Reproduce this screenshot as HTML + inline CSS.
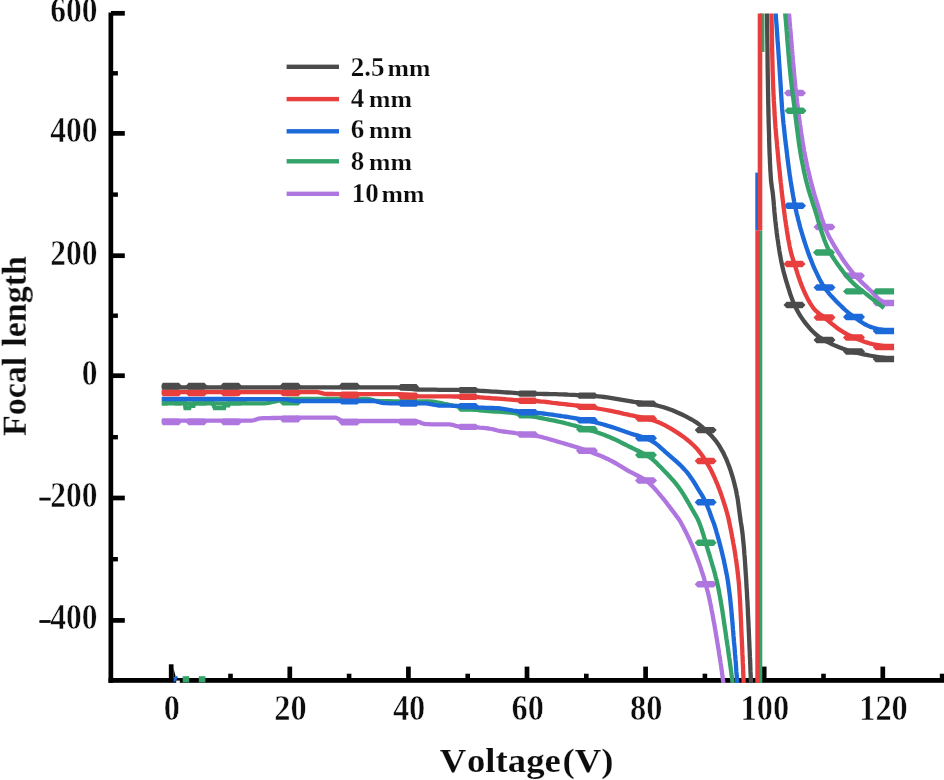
<!DOCTYPE html>
<html><head><meta charset="utf-8"><title>Focal length vs Voltage</title>
<style>
html,body{margin:0;padding:0;background:#fff;}
body{width:944px;height:780px;overflow:hidden;font-family:"Liberation Serif",serif;}
svg{display:block;}
text{font-family:"Liberation Serif",serif;font-weight:bold;fill:#0d0d0d;font-kerning:none;filter:blur(0.35px);stroke:#fff;stroke-width:0.25px;}
.tick{font-size:30px;stroke-width:0.45px;}
.leg{font-size:25px;}
.lab{font-size:34px;stroke-width:0.15px;}
.ylab{font-size:32px;}
</style></head>
<body>
<svg width="944" height="780" viewBox="0 0 944 780">
<defs><clipPath id="plot"><rect x="161.7" y="13.6" width="732.4" height="669.4"/></clipPath></defs>
<rect width="944" height="780" fill="#ffffff"/>
<g id="axes">
<rect x="108.5" y="12.5" width="4.7" height="670.3" fill="#000"/>
<rect x="108.5" y="678" width="835.5" height="4.8" fill="#000"/>
<rect x="111" y="10.95" width="13.8" height="4.7" fill="#000"/>
<rect x="111" y="131.05" width="13.8" height="4.7" fill="#000"/>
<rect x="111" y="253.35" width="13.8" height="4.7" fill="#000"/>
<rect x="111" y="373.35" width="13.8" height="4.7" fill="#000"/>
<rect x="111" y="495.65" width="13.8" height="4.7" fill="#000"/>
<rect x="111" y="618.05" width="13.8" height="4.7" fill="#000"/>
<rect x="111" y="71.10" width="6.9" height="4.4" fill="#000"/>
<rect x="111" y="192.40" width="6.9" height="4.4" fill="#000"/>
<rect x="111" y="313.50" width="6.9" height="4.4" fill="#000"/>
<rect x="111" y="435.00" width="6.9" height="4.4" fill="#000"/>
<rect x="111" y="557.00" width="6.9" height="4.4" fill="#000"/>
<rect x="168.85" y="664.3" width="4.7" height="15" fill="#000"/>
<rect x="287.45" y="666.6" width="4.7" height="15" fill="#000"/>
<rect x="406.05" y="666.6" width="4.7" height="15" fill="#000"/>
<rect x="524.65" y="666.6" width="4.7" height="15" fill="#000"/>
<rect x="643.25" y="666.6" width="4.7" height="15" fill="#000"/>
<rect x="761.85" y="666.6" width="4.7" height="15" fill="#000"/>
<rect x="880.45" y="666.6" width="4.7" height="15" fill="#000"/>
<rect x="228.20" y="673.7" width="4.6" height="6" fill="#000"/>
<rect x="346.80" y="673.7" width="4.6" height="6" fill="#000"/>
<rect x="465.40" y="673.7" width="4.6" height="6" fill="#000"/>
<rect x="584.00" y="673.7" width="4.6" height="6" fill="#000"/>
<rect x="702.60" y="673.7" width="4.6" height="6" fill="#000"/>
<rect x="821.20" y="673.7" width="4.6" height="6" fill="#000"/>
<rect x="939.80" y="673.7" width="4.6" height="6" fill="#000"/>
</g>
<g id="curves" clip-path="url(#plot)">
<path d="M158.0 420.6 L161.0 420.6 L164.0 420.6 L167.1 420.6 L170.1 420.6 L173.1 420.6 L176.2 420.6 L179.2 420.6 L182.3 420.6 L185.3 420.6 L188.4 420.6 L191.4 420.6 L194.5 420.6 L197.5 420.6 L200.5 420.6 L203.6 420.6 L206.6 420.6 L209.7 420.6 L212.7 420.6 L215.7 420.6 L218.8 420.6 L221.8 420.6 L224.8 420.6 L227.8 420.6 L230.8 420.6 L233.9 420.6 L236.8 420.6 L239.8 420.6 L242.8 420.6 L245.8 420.6 L248.7 420.6 L251.7 420.6 L254.6 420.0 L257.5 418.9 L260.4 418.3 L263.4 418.2 L266.4 418.2 L269.4 418.1 L272.4 418.0 L275.4 418.0 L278.5 417.9 L281.5 417.9 L284.6 417.9 L287.7 417.8 L290.8 417.8 L293.9 417.8 L296.9 417.7 L300.0 417.7 L303.1 417.7 L306.2 417.7 L309.2 417.7 L312.3 417.6 L315.3 417.6 L318.3 417.6 L321.3 417.6 L324.3 417.6 L327.2 417.6 L330.2 417.6 L333.1 417.6 L335.9 417.7 L338.7 419.1 L341.4 420.7 L344.3 421.0 L347.2 421.0 L350.1 421.0 L353.1 421.0 L356.0 421.0 L359.0 421.0 L362.1 421.0 L365.1 421.0 L368.1 421.0 L371.2 421.0 L374.3 421.0 L377.3 421.0 L380.4 421.0 L383.5 421.0 L386.6 421.0 L389.7 421.0 L392.7 421.0 L395.8 421.0 L398.9 421.0 L401.9 421.0 L404.9 421.0 L407.9 421.0 L410.9 421.0 L413.9 421.0 L416.8 421.2 L419.7 422.2 L422.6 423.5 L425.5 424.2 L428.5 424.2 L431.5 424.3 L434.5 424.3 L437.6 424.3 L440.6 424.3 L443.7 424.3 L446.7 424.3 L449.7 424.4 L452.6 424.9 L455.6 425.8 L458.5 426.3 L461.5 426.6 L464.5 426.7 L467.6 426.8 L470.6 427.0 L473.6 427.1 L476.6 427.3 L479.7 427.6 L482.7 427.8 L485.7 428.1 L488.7 428.5 L491.6 429.0 L494.6 429.7 L497.5 430.5 L500.5 431.1 L503.5 431.5 L506.5 431.9 L509.5 432.3 L512.5 432.7 L515.5 433.1 L518.5 433.4 L521.5 433.8 L524.5 434.1 L527.5 434.5 L530.5 434.9 L533.5 435.3 L536.4 435.8 L539.4 436.5 L542.3 437.2 L545.2 438.0 L548.1 438.8 L551.0 439.7 L554.0 440.5 L556.9 441.4 L559.8 442.2 L562.7 443.0 L565.6 443.9 L568.5 444.7 L571.4 445.6 L574.3 446.5 L577.2 447.4 L580.0 448.3 L582.9 449.3 L585.7 450.3 L588.6 451.3 L591.4 452.3 L594.3 453.4 L597.1 454.5 L599.9 455.6 L602.7 456.8 L605.4 458.0 L608.2 459.3 L610.9 460.6 L613.5 462.0 L616.2 463.5 L618.8 465.1 L621.4 466.6 L623.9 468.2 L626.6 469.8 L629.2 471.3 L631.9 472.7 L634.6 474.1 L637.3 475.5 L640.1 476.9 L642.7 478.3 L645.2 479.9 L647.6 481.6 L649.8 483.6 L652.0 485.7 L654.0 487.9 L656.1 490.2 L658.0 492.5 L660.0 494.9 L661.9 497.2 L663.9 499.5 L665.8 501.9 L667.6 504.3 L669.5 506.7 L671.3 509.1 L673.1 511.5 L674.9 513.9 L676.7 516.4 L678.6 518.8 L680.2 521.3 L681.6 523.9 L683.0 526.5 L684.4 529.2 L685.8 531.9 L687.1 534.6 L688.4 537.3 L689.7 540.0 L690.9 542.8 L692.2 545.6 L693.3 548.4 L694.5 551.2 L695.6 554.1 L696.7 556.9 L697.8 559.8 L698.9 562.7 L699.9 565.6 L700.9 568.5 L701.8 571.4 L702.8 574.3 L703.7 577.2 L704.5 580.1 L705.4 583.0 L706.2 585.9 L706.9 588.7 L707.7 591.6 L708.4 594.6 L709.1 597.5 L709.7 600.4 L710.3 603.4 L711.0 606.3 L711.5 609.3 L712.1 612.3 L712.7 615.3 L713.2 618.3 L713.7 621.2 L714.3 624.2 L714.8 627.2 L715.3 630.2 L715.8 633.2 L716.3 636.2 L716.8 639.2 L717.3 642.1 L717.8 645.1 L718.3 648.1 L718.8 651.1 L719.2 654.1 L719.7 657.1 L720.2 660.0 L720.6 663.0 L721.1 666.0 L721.5 669.0 L721.9 672.0 L722.3 675.0 L722.7 678.0 L723.1 681.0 L723.5 684.0" stroke="#b076e0" stroke-width="4.3" fill="none" stroke-linejoin="round"/>
<path d="M788.3 6.0 L788.6 9.0 L788.8 12.0 L789.1 15.1 L789.4 18.1 L789.6 21.1 L789.9 24.1 L790.1 27.2 L790.4 30.2 L790.7 33.2 L790.9 36.3 L791.2 39.3 L791.4 42.3 L791.7 45.3 L791.9 48.4 L792.2 51.4 L792.4 54.4 L792.7 57.4 L792.9 60.5 L793.2 63.5 L793.5 66.5 L793.8 69.5 L794.0 72.6 L794.3 75.6 L794.6 78.6 L794.9 81.6 L795.2 84.6 L795.5 87.7 L795.9 90.7 L796.2 93.7 L796.5 96.7 L796.9 99.7 L797.2 102.7 L797.6 105.8 L798.0 108.8 L798.3 111.8 L798.7 114.8 L799.1 117.8 L799.5 120.8 L799.9 123.8 L800.4 126.8 L800.8 129.9 L801.2 132.9 L801.7 135.9 L802.2 138.9 L802.6 141.9 L803.1 144.9 L803.6 147.8 L804.1 150.8 L804.7 153.8 L805.3 156.8 L805.9 159.8 L806.5 162.7 L807.1 165.7 L807.8 168.7 L808.5 171.6 L809.2 174.6 L809.9 177.5 L810.6 180.5 L811.4 183.4 L812.2 186.4 L813.0 189.3 L813.8 192.2 L814.6 195.1 L815.5 198.0 L816.4 200.9 L817.3 203.9 L818.2 206.8 L819.1 209.7 L820.0 212.5 L820.9 215.4 L821.8 218.4 L822.8 221.3 L823.8 224.1 L824.8 227.0 L825.9 229.8 L827.1 232.5 L828.4 235.3 L829.8 238.0 L831.3 240.6 L832.8 243.3 L834.3 245.9 L835.9 248.5 L837.5 251.1 L839.2 253.7 L840.8 256.2 L842.4 258.8 L844.1 261.3 L845.9 263.8 L847.7 266.3 L849.5 268.7 L851.4 271.1 L853.3 273.4 L855.3 275.7 L857.4 277.9 L859.5 280.1 L861.6 282.2 L863.9 284.3 L866.1 286.4 L868.3 288.5 L870.6 290.5 L872.8 292.8 L875.0 295.2 L877.2 297.5 L879.5 299.6 L882.0 301.3 L884.5 302.4 L887.3 302.9 L890.3 303.3 L893.5 303.5" stroke="#b076e0" stroke-width="4.3" fill="none" stroke-linejoin="round"/>
<polygon fill="#b076e0" points="160.0,421.8 163.0,418.4 179.0,418.4 182.0,421.8 179.0,425.2 163.0,425.2"/>
<polygon fill="#b076e0" points="185.5,421.8 188.5,418.4 204.5,418.4 207.5,421.8 204.5,425.2 188.5,425.2"/>
<polygon fill="#b076e0" points="220.0,421.8 223.0,418.4 239.0,418.4 242.0,421.8 239.0,425.2 223.0,425.2"/>
<polygon fill="#b076e0" points="279.5,419.0 282.5,415.5 298.5,415.5 301.5,419.0 298.5,422.4 282.5,422.4"/>
<polygon fill="#b076e0" points="338.5,422.2 341.5,418.8 357.5,418.8 360.5,422.2 357.5,425.6 341.5,425.6"/>
<polygon fill="#b076e0" points="397.5,422.2 400.5,418.8 416.5,418.8 419.5,422.2 416.5,425.6 400.5,425.6"/>
<polygon fill="#b076e0" points="457.0,426.9 460.0,423.7 476.0,423.7 479.0,426.9 476.0,430.1 460.0,430.1"/>
<polygon fill="#b076e0" points="516.5,434.5 519.5,431.3 535.5,431.3 538.5,434.5 535.5,437.7 519.5,437.7"/>
<polygon fill="#b076e0" points="576.0,450.7 579.0,447.5 595.0,447.5 598.0,450.7 595.0,453.9 579.0,453.9"/>
<polygon fill="#b076e0" points="635.0,480.5 638.0,477.3 654.0,477.3 657.0,480.5 654.0,483.7 638.0,483.7"/>
<polygon fill="#b076e0" points="694.7,584.2 697.7,581.0 713.7,581.0 716.7,584.2 713.7,587.4 697.7,587.4"/>
<polygon fill="#b076e0" points="784.0,93.0 787.0,89.8 803.0,89.8 806.0,93.0 803.0,96.2 787.0,96.2"/>
<polygon fill="#b076e0" points="813.5,227.0 816.5,223.8 832.5,223.8 835.5,227.0 832.5,230.2 816.5,230.2"/>
<polygon fill="#b076e0" points="843.0,275.7 846.0,272.5 862.0,272.5 865.0,275.7 862.0,278.9 846.0,278.9"/>
<polygon fill="#b076e0" points="872.7,303.0 875.7,299.8 895.7,299.8 898.7,303.0 895.7,306.2 875.7,306.2"/>
<path d="M158.0 403.4 L161.0 403.4 L164.0 403.4 L167.1 403.4 L170.1 403.4 L173.1 403.4 L176.1 403.4 L179.1 403.4 L182.2 403.4 L185.2 403.4 L188.2 403.4 L191.2 403.4 L194.3 403.4 L197.3 403.4 L200.3 403.4 L203.4 403.4 L206.4 403.4 L209.4 403.4 L212.4 403.4 L215.5 403.4 L218.5 403.4 L221.5 403.4 L224.5 403.4 L227.6 403.4 L230.6 403.4 L233.6 403.4 L236.6 403.4 L239.6 403.4 L242.6 403.4 L245.7 403.4 L248.7 403.4 L251.7 403.4 L254.7 403.4 L257.7 403.4 L260.7 403.4 L263.7 403.4 L266.7 403.1 L269.7 402.6 L272.6 402.0 L275.6 401.3 L278.6 400.6 L281.6 399.9 L284.5 399.4 L287.5 399.0 L290.5 398.8 L293.5 398.8 L296.5 398.8 L299.5 398.8 L302.5 398.8 L305.6 398.8 L308.6 398.8 L311.6 398.8 L314.6 398.8 L317.7 398.8 L320.7 398.8 L323.7 398.8 L326.8 398.8 L329.8 398.8 L332.8 398.8 L335.8 398.8 L338.9 398.8 L341.9 398.8 L344.9 398.8 L347.9 398.8 L351.0 398.8 L354.0 398.8 L357.0 398.8 L360.0 398.8 L363.0 398.8 L366.0 398.8 L369.0 399.2 L372.0 399.8 L375.0 400.5 L377.9 401.0 L380.9 401.1 L383.9 401.2 L387.0 401.2 L390.0 401.2 L393.0 401.3 L396.0 401.3 L399.0 401.3 L402.1 401.3 L405.1 401.3 L408.1 401.3 L411.2 401.3 L414.2 401.3 L417.2 401.4 L420.2 401.4 L423.3 401.4 L426.3 401.4 L429.3 401.5 L432.3 401.6 L435.2 402.0 L438.2 402.5 L441.2 403.1 L444.2 403.8 L447.1 404.4 L450.1 405.0 L453.1 405.6 L456.0 406.1 L459.0 406.7 L462.0 407.3 L464.9 407.9 L467.9 408.5 L470.9 409.0 L473.9 409.5 L476.8 409.9 L479.8 410.3 L482.8 410.6 L485.8 410.8 L488.8 411.1 L491.9 411.3 L494.9 411.5 L497.9 411.6 L500.9 411.8 L503.9 412.1 L506.9 412.3 L509.9 412.6 L512.9 412.9 L515.9 413.3 L518.9 413.8 L521.9 414.3 L524.9 414.8 L527.8 415.3 L530.8 416.0 L533.8 416.6 L536.7 417.2 L539.7 417.8 L542.6 418.4 L545.6 419.0 L548.6 419.6 L551.5 420.1 L554.5 420.7 L557.4 421.4 L560.4 422.0 L563.3 422.7 L566.3 423.5 L569.2 424.2 L572.1 425.0 L575.0 425.7 L577.9 426.5 L580.9 427.4 L583.8 428.2 L586.6 429.1 L589.5 430.0 L592.4 430.9 L595.3 431.8 L598.2 432.8 L601.0 433.8 L603.9 434.8 L606.7 435.9 L609.5 437.0 L612.2 438.2 L615.0 439.4 L617.7 440.7 L620.4 442.1 L623.1 443.5 L625.8 444.8 L628.5 446.2 L631.2 447.5 L634.0 448.9 L636.7 450.2 L639.5 451.5 L642.2 452.9 L644.8 454.3 L647.4 455.8 L649.9 457.4 L652.3 459.2 L654.5 461.1 L656.8 463.2 L658.9 465.4 L661.1 467.6 L663.2 469.8 L665.3 471.9 L667.4 474.1 L669.4 476.3 L671.5 478.6 L673.5 480.8 L675.5 483.1 L677.3 485.5 L679.1 487.9 L680.8 490.3 L682.5 492.9 L684.1 495.4 L685.6 498.0 L687.2 500.6 L688.7 503.3 L690.2 505.9 L691.7 508.5 L693.2 511.1 L694.8 513.8 L696.3 516.4 L697.7 519.1 L698.9 521.8 L700.0 524.6 L701.0 527.4 L702.0 530.3 L702.9 533.2 L703.8 536.1 L704.6 539.0 L705.5 541.9 L706.3 544.8 L707.2 547.7 L708.1 550.6 L709.0 553.5 L709.9 556.4 L710.7 559.3 L711.6 562.2 L712.4 565.1 L713.3 568.0 L714.1 570.9 L714.9 573.8 L715.6 576.7 L716.4 579.6 L717.1 582.6 L717.8 585.5 L718.4 588.5 L719.0 591.4 L719.5 594.4 L720.1 597.3 L720.6 600.3 L721.1 603.3 L721.6 606.2 L722.1 609.2 L722.6 612.2 L723.0 615.2 L723.5 618.2 L723.9 621.2 L724.3 624.2 L724.8 627.2 L725.2 630.2 L725.7 633.2 L726.1 636.1 L726.5 639.1 L727.0 642.1 L727.4 645.1 L727.9 648.1 L728.3 651.1 L728.7 654.1 L729.1 657.1 L729.6 660.1 L730.0 663.0 L730.4 666.0 L730.8 669.0 L731.2 672.0 L731.6 675.0 L732.0 678.0 L732.4 681.0 L732.8 684.0" stroke="#34a369" stroke-width="4.3" fill="none" stroke-linejoin="round"/>
<path d="M784.6 6.0 L784.8 9.0 L785.1 12.1 L785.3 15.1 L785.6 18.2 L785.9 21.2 L786.1 24.3 L786.4 27.3 L786.6 30.4 L786.9 33.4 L787.1 36.4 L787.3 39.5 L787.6 42.5 L787.8 45.6 L788.1 48.6 L788.3 51.7 L788.6 54.7 L788.9 57.8 L789.1 60.8 L789.4 63.8 L789.7 66.9 L790.0 69.9 L790.3 73.0 L790.6 76.0 L790.9 79.0 L791.3 82.1 L791.6 85.1 L792.0 88.1 L792.4 91.2 L792.7 94.2 L793.1 97.2 L793.5 100.3 L793.9 103.3 L794.3 106.3 L794.7 109.4 L795.0 112.4 L795.4 115.4 L795.8 118.5 L796.2 121.5 L796.5 124.5 L796.9 127.6 L797.3 130.6 L797.7 133.6 L798.1 136.7 L798.5 139.7 L798.9 142.7 L799.3 145.7 L799.8 148.7 L800.3 151.8 L800.8 154.8 L801.3 157.8 L801.9 160.8 L802.5 163.8 L803.1 166.8 L803.7 169.8 L804.3 172.8 L805.0 175.8 L805.7 178.7 L806.4 181.7 L807.2 184.6 L808.0 187.6 L808.8 190.5 L809.7 193.4 L810.6 196.4 L811.6 199.3 L812.5 202.2 L813.4 205.1 L814.4 208.0 L815.3 210.9 L816.2 213.9 L817.1 216.8 L817.9 219.8 L818.8 222.7 L819.7 225.7 L820.6 228.6 L821.5 231.5 L822.5 234.5 L823.5 237.3 L824.5 240.2 L825.6 243.0 L826.7 245.8 L828.0 248.5 L829.3 251.2 L830.8 253.9 L832.4 256.5 L834.1 259.1 L835.8 261.6 L837.6 264.2 L839.4 266.7 L841.2 269.1 L843.0 271.6 L844.9 274.0 L846.9 276.4 L848.9 278.7 L851.0 280.9 L853.1 283.1 L855.3 285.1 L857.6 287.1 L860.0 289.1 L862.4 291.0 L864.8 292.9 L867.2 294.8 L869.6 296.7 L872.0 298.6 L874.4 300.5 L876.8 302.4 L879.2 304.3 L881.6 306.1 L884.0 308.0" stroke="#34a369" stroke-width="4.3" fill="none" stroke-linejoin="round"/>
<polygon fill="#34a369" points="338.5,399.8 341.5,396.4 357.5,396.4 360.5,399.8 357.5,403.2 341.5,403.2"/>
<polygon fill="#34a369" points="397.5,402.3 400.5,398.9 416.5,398.9 419.5,402.3 416.5,405.8 400.5,405.8"/>
<polygon fill="#34a369" points="457.0,408.5 460.0,405.3 476.0,405.3 479.0,408.5 476.0,411.7 460.0,411.7"/>
<polygon fill="#34a369" points="516.5,415.3 519.5,412.1 535.5,412.1 538.5,415.3 535.5,418.5 519.5,418.5"/>
<polygon fill="#34a369" points="576.0,429.2 579.0,426.0 595.0,426.0 598.0,429.2 595.0,432.4 579.0,432.4"/>
<polygon fill="#34a369" points="635.0,455.0 638.0,451.8 654.0,451.8 657.0,455.0 654.0,458.2 638.0,458.2"/>
<polygon fill="#34a369" points="694.7,542.7 697.7,539.5 713.7,539.5 716.7,542.7 713.7,545.9 697.7,545.9"/>
<polygon fill="#34a369" points="279.5,402.4 282.5,399.2 298.5,399.2 301.5,402.4 298.5,405.6 282.5,405.6"/>
<path d="M161.7 403.3 L166.0 403.3 L166.5 401.5 L175.0 401.5 L176.0 403.3 L180.0 403.3 L181.0 401.5 L184.5 401.5 L185.5 408.0 L189.3 408.0 L190.0 405.8 L193.5 405.8 L194.2 403.3 L205.0 403.3 L206.0 401.5 L212.0 401.5 L214.8 408.0 L224.0 408.0 L224.5 405.3 L228.4 405.3 L229.0 403.3 L240.0 403.3 L241.0 401.5 L247.0 401.5" stroke="#34a369" stroke-width="4.3" fill="none"/>
<polygon fill="#34a369" points="784.5,110.8 787.5,107.5 803.5,107.5 806.5,110.8 803.5,114.0 787.5,114.0"/>
<polygon fill="#34a369" points="813.0,252.5 816.0,249.3 832.0,249.3 835.0,252.5 832.0,255.7 816.0,255.7"/>
<polygon fill="#34a369" points="843.0,291.4 846.0,288.2 862.0,288.2 865.0,291.4 862.0,294.6 846.0,294.6"/>
<polygon fill="#34a369" points="872.7,291.4 875.7,288.2 895.7,288.2 898.7,291.4 895.7,294.6 875.7,294.6"/>
<rect x="758" y="230.5" width="4.3" height="455" fill="#34a369"/>
<rect x="760" y="10" width="4.5" height="42" fill="#34a369"/>
<path d="M158.0 399.0 L161.0 399.0 L164.0 399.0 L167.1 399.0 L170.1 399.0 L173.1 399.0 L176.1 399.0 L179.1 399.0 L182.1 399.0 L185.2 399.0 L188.2 399.0 L191.2 399.0 L194.2 399.0 L197.3 399.0 L200.3 399.0 L203.3 399.0 L206.3 399.0 L209.3 399.0 L212.4 399.0 L215.4 399.0 L218.4 399.0 L221.4 399.0 L224.5 399.0 L227.5 399.0 L230.5 399.0 L233.5 399.0 L236.5 399.1 L239.6 399.1 L242.6 399.1 L245.6 399.1 L248.6 399.1 L251.6 399.1 L254.6 399.1 L257.7 399.1 L260.7 399.1 L263.7 399.1 L266.7 399.1 L269.7 399.1 L272.7 399.2 L275.7 399.2 L278.7 399.2 L281.7 399.2 L284.7 399.3 L287.7 399.7 L290.7 400.3 L293.7 400.8 L296.7 401.0 L299.7 401.0 L302.7 401.0 L305.7 401.0 L308.7 401.0 L311.7 401.0 L314.8 401.0 L317.8 401.0 L320.8 401.0 L323.9 401.0 L326.9 401.0 L329.9 401.0 L333.0 401.0 L336.0 401.0 L339.0 401.0 L342.0 401.0 L345.1 401.0 L348.1 401.0 L351.1 401.0 L354.1 401.0 L357.2 401.0 L360.2 401.0 L363.2 401.0 L366.2 401.0 L369.1 401.0 L372.1 401.0 L375.1 401.1 L378.0 401.8 L381.0 402.7 L383.9 403.2 L386.9 403.2 L389.9 403.3 L392.9 403.3 L395.9 403.3 L399.0 403.3 L402.0 403.3 L405.0 403.3 L408.0 403.3 L411.1 403.3 L414.1 403.3 L417.1 403.3 L420.2 403.4 L423.2 403.4 L426.2 403.4 L429.2 403.8 L432.1 404.4 L435.1 405.0 L438.1 405.5 L441.1 405.6 L444.1 405.7 L447.1 405.7 L450.1 405.7 L453.2 405.8 L456.2 405.8 L459.2 405.8 L462.2 405.8 L465.2 405.9 L468.2 406.1 L471.2 406.5 L474.2 407.0 L477.2 407.4 L480.2 407.6 L483.2 407.7 L486.3 407.8 L489.3 407.9 L492.3 408.0 L495.3 408.1 L498.3 408.2 L501.3 408.6 L504.3 409.1 L507.3 409.6 L510.2 410.1 L513.2 410.6 L516.2 411.0 L519.2 411.4 L522.2 411.7 L525.2 412.0 L528.2 412.2 L531.2 412.4 L534.2 412.6 L537.2 412.8 L540.2 413.1 L543.2 413.5 L546.2 413.9 L549.2 414.3 L552.2 414.7 L555.2 415.2 L558.2 415.6 L561.2 416.0 L564.2 416.5 L567.2 416.9 L570.1 417.4 L573.1 417.8 L576.1 418.3 L579.1 418.8 L582.0 419.4 L585.0 419.9 L587.9 420.5 L590.9 421.2 L593.8 421.9 L596.7 422.7 L599.7 423.5 L602.6 424.3 L605.5 425.1 L608.4 426.0 L611.2 426.9 L614.1 427.8 L617.0 428.8 L619.8 429.8 L622.7 430.8 L625.5 431.8 L628.4 432.8 L631.2 433.7 L634.2 434.6 L637.1 435.4 L640.1 436.3 L643.0 437.2 L645.8 438.2 L648.5 439.3 L651.1 440.6 L653.6 442.1 L656.1 443.8 L658.4 445.7 L660.8 447.8 L663.1 449.8 L665.3 451.9 L667.6 453.9 L669.9 455.9 L672.2 457.9 L674.5 459.9 L676.8 461.9 L679.0 463.9 L681.2 466.0 L683.3 468.2 L685.3 470.4 L687.3 472.6 L689.1 475.0 L690.8 477.4 L692.5 479.9 L694.2 482.5 L695.8 485.1 L697.3 487.7 L698.9 490.3 L700.5 492.8 L702.1 495.4 L703.6 498.1 L705.0 500.7 L706.3 503.4 L707.4 506.2 L708.5 509.0 L709.6 511.8 L710.6 514.7 L711.6 517.5 L712.7 520.4 L713.8 523.2 L714.7 526.0 L715.6 528.9 L716.4 531.8 L717.3 534.7 L718.1 537.6 L718.9 540.5 L719.7 543.4 L720.4 546.4 L721.2 549.3 L721.9 552.3 L722.6 555.2 L723.3 558.1 L724.0 561.1 L724.6 564.1 L725.2 567.0 L725.8 570.0 L726.4 573.0 L727.0 575.9 L727.5 578.9 L728.0 581.9 L728.4 584.9 L728.8 587.8 L729.2 590.8 L729.6 593.8 L730.0 596.8 L730.3 599.8 L730.6 602.8 L730.9 605.8 L731.2 608.8 L731.5 611.8 L731.7 614.8 L732.0 617.8 L732.3 620.8 L732.5 623.8 L732.8 626.8 L733.0 629.9 L733.3 632.9 L733.5 635.9 L733.8 638.9 L734.0 641.9 L734.3 644.9 L734.6 647.9 L734.8 650.9 L735.0 653.9 L735.3 656.9 L735.5 659.9 L735.8 662.9 L736.0 665.9 L736.2 669.0 L736.4 672.0 L736.7 675.0 L736.9 678.0 L737.1 681.0 L737.3 684.0" stroke="#1c69d9" stroke-width="4.3" fill="none" stroke-linejoin="round"/>
<path d="M775.2 6.0 L775.4 9.0 L775.6 12.0 L775.8 15.1 L776.0 18.1 L776.2 21.1 L776.5 24.1 L776.7 27.1 L776.9 30.2 L777.1 33.2 L777.3 36.2 L777.5 39.2 L777.7 42.3 L778.0 45.3 L778.2 48.3 L778.4 51.3 L778.6 54.3 L778.8 57.4 L779.0 60.4 L779.2 63.4 L779.4 66.4 L779.6 69.4 L779.8 72.5 L780.0 75.5 L780.2 78.5 L780.4 81.5 L780.6 84.6 L780.8 87.6 L780.9 90.6 L781.1 93.6 L781.3 96.7 L781.5 99.7 L781.7 102.7 L781.9 105.7 L782.1 108.7 L782.4 111.8 L782.7 114.8 L782.9 117.8 L783.2 120.8 L783.5 123.8 L783.9 126.8 L784.2 129.8 L784.5 132.9 L784.8 135.9 L785.2 138.9 L785.5 141.9 L785.9 144.9 L786.3 147.9 L786.6 150.9 L787.0 153.9 L787.3 156.9 L787.7 159.9 L788.1 162.9 L788.5 165.9 L788.9 168.9 L789.3 171.9 L789.7 174.9 L790.2 177.9 L790.6 180.9 L791.1 183.9 L791.6 186.9 L792.1 189.9 L792.6 192.9 L793.1 195.9 L793.7 198.9 L794.2 201.8 L794.8 204.8 L795.4 207.8 L796.1 210.7 L796.7 213.7 L797.5 216.6 L798.2 219.6 L799.0 222.5 L799.7 225.4 L800.5 228.3 L801.4 231.3 L802.2 234.2 L803.1 237.1 L804.0 240.0 L804.9 242.9 L805.8 245.7 L806.8 248.6 L807.8 251.5 L808.8 254.3 L809.9 257.2 L811.0 260.0 L812.1 262.8 L813.2 265.6 L814.4 268.4 L815.7 271.2 L817.0 273.9 L818.3 276.6 L819.6 279.3 L821.1 282.0 L822.6 284.6 L824.3 287.2 L826.0 289.6 L827.9 292.0 L829.8 294.3 L831.8 296.6 L833.9 298.8 L836.0 301.0 L838.2 303.2 L840.3 305.3 L842.5 307.4 L844.7 309.5 L847.0 311.5 L849.3 313.5 L851.7 315.3 L854.1 317.1 L856.6 318.8 L859.1 320.6 L861.7 322.3 L864.4 324.0 L867.1 325.4 L869.8 326.6 L872.6 327.5 L875.4 328.3 L878.3 329.0 L881.2 329.6 L884.2 330.2 L887.3 330.6 L890.4 330.9 L893.5 331.0" stroke="#1c69d9" stroke-width="4.3" fill="none" stroke-linejoin="round"/>
<polygon fill="#1c69d9" points="338.5,401.0 341.5,397.6 357.5,397.6 360.5,401.0 357.5,404.4 341.5,404.4"/>
<polygon fill="#1c69d9" points="397.5,403.3 400.5,399.9 416.5,399.9 419.5,403.3 416.5,406.8 400.5,406.8"/>
<polygon fill="#1c69d9" points="457.0,406.1 460.0,402.9 476.0,402.9 479.0,406.1 476.0,409.3 460.0,409.3"/>
<polygon fill="#1c69d9" points="516.5,412.2 519.5,409.0 535.5,409.0 538.5,412.2 535.5,415.4 519.5,415.4"/>
<polygon fill="#1c69d9" points="576.0,420.3 579.0,417.1 595.0,417.1 598.0,420.3 595.0,423.5 579.0,423.5"/>
<polygon fill="#1c69d9" points="635.0,438.3 638.0,435.1 654.0,435.1 657.0,438.3 654.0,441.5 638.0,441.5"/>
<polygon fill="#1c69d9" points="694.7,502.3 697.7,499.1 713.7,499.1 716.7,502.3 713.7,505.5 697.7,505.5"/>
<polygon fill="#1c69d9" points="784.0,205.8 787.0,202.6 803.0,202.6 806.0,205.8 803.0,208.9 787.0,208.9"/>
<polygon fill="#1c69d9" points="813.5,287.5 816.5,284.3 832.5,284.3 835.5,287.5 832.5,290.7 816.5,290.7"/>
<polygon fill="#1c69d9" points="843.0,317.0 846.0,313.8 862.0,313.8 865.0,317.0 862.0,320.2 846.0,320.2"/>
<polygon fill="#1c69d9" points="872.7,331.0 875.7,327.8 895.7,327.8 898.7,331.0 895.7,334.2 875.7,334.2"/>
<rect x="755.3" y="172.6" width="4" height="57.9" fill="#1c69d9"/>
<path d="M158.0 392.0 L161.0 392.0 L164.0 392.0 L167.0 392.0 L170.1 392.0 L173.1 392.0 L176.1 392.0 L179.1 392.0 L182.1 392.0 L185.2 392.0 L188.2 392.0 L191.2 392.0 L194.2 392.0 L197.3 392.0 L200.3 392.0 L203.3 392.0 L206.4 392.0 L209.4 392.0 L212.4 392.0 L215.4 392.0 L218.5 392.0 L221.5 392.0 L224.5 392.0 L227.6 392.0 L230.6 392.0 L233.6 392.0 L236.6 392.0 L239.7 392.0 L242.7 392.0 L245.7 392.0 L248.7 392.0 L251.8 392.0 L254.8 392.0 L257.8 392.0 L260.8 392.0 L263.9 392.0 L266.9 392.0 L269.9 392.0 L272.9 392.0 L275.9 392.0 L278.9 392.0 L281.9 392.0 L284.9 392.0 L287.9 392.0 L291.0 392.0 L294.0 392.0 L296.9 392.0 L299.9 392.0 L302.9 392.0 L305.9 392.0 L308.9 392.0 L311.9 392.0 L314.9 392.0 L317.9 392.2 L320.8 392.9 L323.8 393.7 L326.7 394.0 L329.7 394.0 L332.7 394.0 L335.7 394.1 L338.7 394.1 L341.7 394.1 L344.7 394.1 L347.7 394.1 L350.8 394.1 L353.8 394.1 L356.8 394.1 L359.8 394.1 L362.9 394.1 L365.9 394.1 L368.9 394.1 L371.9 394.1 L375.0 394.1 L378.0 394.1 L381.0 394.1 L384.0 394.1 L387.1 394.1 L390.1 394.2 L393.1 394.2 L396.1 394.2 L399.1 394.2 L402.1 394.3 L405.1 394.6 L408.1 395.0 L411.1 395.4 L414.1 395.8 L417.1 396.2 L420.1 396.3 L423.1 396.3 L426.2 396.4 L429.2 396.4 L432.2 396.4 L435.2 396.4 L438.2 396.4 L441.2 396.4 L444.3 396.4 L447.3 396.4 L450.3 396.4 L453.3 396.5 L456.3 396.5 L459.4 396.5 L462.4 396.5 L465.4 396.6 L468.4 396.7 L471.4 396.9 L474.4 397.0 L477.4 397.2 L480.4 397.4 L483.5 397.6 L486.5 397.8 L489.5 398.0 L492.5 398.3 L495.5 398.5 L498.5 398.7 L501.5 398.9 L504.5 399.1 L507.5 399.4 L510.5 399.6 L513.5 399.9 L516.6 400.1 L519.6 400.3 L522.6 400.6 L525.6 400.7 L528.6 400.9 L531.6 401.0 L534.6 401.1 L537.6 401.2 L540.6 401.5 L543.6 401.7 L546.6 402.0 L549.6 402.4 L552.6 402.8 L555.6 403.1 L558.6 403.5 L561.6 403.8 L564.6 404.1 L567.6 404.5 L570.6 404.8 L573.6 405.2 L576.6 405.5 L579.6 405.9 L582.6 406.3 L585.6 406.7 L588.6 407.1 L591.6 407.5 L594.5 408.0 L597.5 408.5 L600.5 409.0 L603.5 409.5 L606.4 410.0 L609.4 410.6 L612.4 411.2 L615.3 411.8 L618.3 412.4 L621.2 413.1 L624.2 413.8 L627.1 414.4 L630.0 415.1 L633.0 415.7 L636.0 416.3 L638.9 416.9 L641.9 417.6 L644.8 418.2 L647.7 418.9 L650.7 419.7 L653.6 420.5 L656.4 421.5 L659.2 422.6 L661.9 423.8 L664.7 425.2 L667.3 426.6 L670.0 428.1 L672.6 429.7 L675.2 431.3 L677.7 432.9 L680.2 434.6 L682.6 436.3 L685.1 438.1 L687.5 440.0 L689.8 441.9 L692.1 444.0 L694.3 446.0 L696.4 448.2 L698.3 450.4 L700.2 452.8 L702.0 455.2 L703.7 457.8 L705.3 460.3 L706.9 462.9 L708.4 465.5 L709.9 468.1 L711.3 470.8 L712.6 473.5 L713.9 476.2 L715.1 479.0 L716.3 481.8 L717.5 484.5 L718.6 487.4 L719.7 490.2 L720.7 493.0 L721.7 495.9 L722.6 498.7 L723.6 501.6 L724.5 504.5 L725.4 507.4 L726.3 510.3 L727.1 513.2 L727.9 516.1 L728.6 519.0 L729.2 522.0 L729.8 524.9 L730.4 527.8 L731.0 530.8 L731.6 533.7 L732.1 536.7 L732.7 539.7 L733.2 542.6 L733.8 545.6 L734.3 548.6 L734.8 551.6 L735.3 554.6 L735.7 557.6 L736.2 560.6 L736.6 563.6 L737.0 566.6 L737.4 569.6 L737.7 572.6 L738.1 575.6 L738.4 578.6 L738.7 581.6 L739.0 584.6 L739.2 587.6 L739.4 590.6 L739.6 593.6 L739.8 596.6 L740.0 599.6 L740.1 602.6 L740.3 605.6 L740.4 608.6 L740.6 611.6 L740.7 614.7 L740.8 617.7 L741.0 620.7 L741.1 623.7 L741.2 626.7 L741.3 629.7 L741.5 632.8 L741.6 635.8 L741.8 638.8 L741.9 641.8 L742.0 644.8 L742.2 647.8 L742.3 650.8 L742.4 653.9 L742.6 656.9 L742.7 659.9 L742.8 662.9 L743.0 665.9 L743.1 668.9 L743.2 671.9 L743.3 675.0 L743.5 678.0 L743.6 681.0 L743.7 684.0" stroke="#e93e3e" stroke-width="4.3" fill="none" stroke-linejoin="round"/>
<path d="M771.3 6.0 L771.4 9.0 L771.5 12.1 L771.5 15.1 L771.6 18.2 L771.6 21.2 L771.7 24.3 L771.8 27.3 L771.8 30.4 L771.9 33.4 L771.9 36.4 L772.0 39.5 L772.0 42.5 L772.1 45.6 L772.1 48.6 L772.2 51.7 L772.3 54.7 L772.3 57.8 L772.4 60.8 L772.5 63.8 L772.5 66.9 L772.6 69.9 L772.7 73.0 L772.8 76.0 L772.9 79.1 L773.0 82.1 L773.1 85.2 L773.2 88.2 L773.4 91.2 L773.5 94.3 L773.7 97.3 L773.8 100.4 L774.0 103.4 L774.2 106.4 L774.4 109.5 L774.5 112.5 L774.7 115.6 L774.9 118.6 L775.1 121.6 L775.3 124.7 L775.5 127.7 L775.8 130.7 L776.0 133.8 L776.3 136.8 L776.6 139.9 L776.9 142.9 L777.1 145.9 L777.4 148.9 L777.7 152.0 L778.0 155.0 L778.3 158.0 L778.5 161.1 L778.8 164.1 L779.1 167.1 L779.5 170.2 L779.8 173.2 L780.1 176.2 L780.4 179.3 L780.7 182.3 L781.1 185.3 L781.4 188.3 L781.7 191.4 L782.1 194.4 L782.4 197.4 L782.8 200.4 L783.2 203.5 L783.5 206.5 L783.9 209.5 L784.3 212.5 L784.7 215.5 L785.1 218.6 L785.6 221.6 L786.0 224.6 L786.5 227.6 L786.9 230.6 L787.4 233.6 L787.9 236.7 L788.4 239.7 L789.0 242.7 L789.5 245.6 L790.1 248.6 L790.8 251.6 L791.5 254.5 L792.4 257.4 L793.3 260.3 L794.3 263.2 L795.2 266.2 L796.1 269.1 L797.0 272.0 L797.9 274.9 L798.9 277.8 L799.9 280.7 L800.9 283.5 L802.0 286.4 L803.2 289.1 L804.4 292.0 L805.7 294.8 L807.1 297.6 L808.5 300.4 L810.1 303.1 L811.7 305.6 L813.4 308.1 L815.3 310.3 L817.4 312.3 L819.9 314.2 L822.4 315.9 L824.9 317.8 L827.2 319.8 L829.6 321.8 L831.9 323.8 L834.2 325.7 L836.6 327.6 L839.1 329.4 L841.6 331.0 L844.2 332.6 L846.9 334.1 L849.6 335.5 L852.4 336.8 L855.1 338.0 L857.9 339.2 L860.8 340.3 L863.7 341.4 L866.5 342.4 L869.5 343.3 L872.4 344.0 L875.4 344.6 L878.3 345.1 L881.3 345.7 L884.3 346.1 L887.4 346.5 L890.4 346.8 L893.5 347.0" stroke="#e93e3e" stroke-width="4.3" fill="none" stroke-linejoin="round"/>
<polygon fill="#e93e3e" points="160.0,392.9 163.0,389.4 179.0,389.4 182.0,392.9 179.0,396.3 163.0,396.3"/>
<polygon fill="#e93e3e" points="185.5,392.9 188.5,389.4 204.5,389.4 207.5,392.9 204.5,396.3 188.5,396.3"/>
<polygon fill="#e93e3e" points="220.0,392.9 223.0,389.4 239.0,389.4 242.0,392.9 239.0,396.3 223.0,396.3"/>
<polygon fill="#e93e3e" points="279.5,392.9 282.5,389.4 298.5,389.4 301.5,392.9 298.5,396.3 282.5,396.3"/>
<polygon fill="#e93e3e" points="338.5,395.0 341.5,391.5 357.5,391.5 360.5,395.0 357.5,398.4 341.5,398.4"/>
<polygon fill="#e93e3e" points="397.5,395.9 400.5,392.5 416.5,392.5 419.5,395.9 416.5,399.4 400.5,399.4"/>
<polygon fill="#e93e3e" points="457.0,396.7 460.0,393.5 476.0,393.5 479.0,396.7 476.0,399.9 460.0,399.9"/>
<polygon fill="#e93e3e" points="516.5,400.8 519.5,397.6 535.5,397.6 538.5,400.8 535.5,404.0 519.5,404.0"/>
<polygon fill="#e93e3e" points="576.0,406.9 579.0,403.7 595.0,403.7 598.0,406.9 595.0,410.1 579.0,410.1"/>
<polygon fill="#e93e3e" points="635.0,418.5 638.0,415.3 654.0,415.3 657.0,418.5 654.0,421.7 638.0,421.7"/>
<polygon fill="#e93e3e" points="694.7,461.0 697.7,457.8 713.7,457.8 716.7,461.0 713.7,464.2 697.7,464.2"/>
<polygon fill="#e93e3e" points="783.5,264.0 786.5,260.8 802.5,260.8 805.5,264.0 802.5,267.2 786.5,267.2"/>
<polygon fill="#e93e3e" points="813.5,317.5 816.5,314.3 832.5,314.3 835.5,317.5 832.5,320.7 816.5,320.7"/>
<polygon fill="#e93e3e" points="843.0,337.5 846.0,334.3 862.0,334.3 865.0,337.5 862.0,340.7 846.0,340.7"/>
<polygon fill="#e93e3e" points="872.7,347.0 875.7,343.8 895.7,343.8 898.7,347.0 895.7,350.2 875.7,350.2"/>
<rect x="757.7" y="10" width="4.6" height="220.5" fill="#e93e3e"/>
<rect x="755.3" y="230.5" width="4.5" height="455" fill="#e93e3e"/>
<path d="M158.0 387.4 L161.0 387.4 L164.0 387.4 L167.1 387.4 L170.1 387.4 L173.1 387.4 L176.1 387.4 L179.1 387.4 L182.1 387.4 L185.2 387.4 L188.2 387.4 L191.2 387.4 L194.2 387.4 L197.2 387.4 L200.3 387.4 L203.3 387.4 L206.3 387.4 L209.3 387.4 L212.3 387.4 L215.4 387.4 L218.4 387.4 L221.4 387.4 L224.4 387.4 L227.4 387.4 L230.5 387.4 L233.5 387.4 L236.5 387.4 L239.5 387.4 L242.5 387.4 L245.6 387.4 L248.6 387.4 L251.6 387.4 L254.6 387.4 L257.6 387.4 L260.7 387.4 L263.7 387.4 L266.7 387.4 L269.7 387.4 L272.7 387.4 L275.8 387.4 L278.8 387.4 L281.8 387.4 L284.8 387.4 L287.8 387.4 L290.9 387.4 L293.9 387.4 L296.9 387.4 L299.9 387.4 L302.9 387.4 L305.9 387.4 L309.0 387.4 L312.0 387.4 L315.0 387.4 L318.0 387.4 L321.0 387.4 L324.1 387.4 L327.1 387.4 L330.1 387.4 L333.1 387.4 L336.1 387.4 L339.1 387.4 L342.2 387.4 L345.2 387.4 L348.2 387.4 L351.2 387.4 L354.2 387.4 L357.2 387.4 L360.2 387.4 L363.3 387.4 L366.3 387.4 L369.3 387.4 L372.3 387.4 L375.3 387.4 L378.3 387.4 L381.3 387.4 L384.3 387.4 L387.4 387.4 L390.4 387.4 L393.4 387.4 L396.4 387.4 L399.4 387.6 L402.4 387.8 L405.4 388.2 L408.4 388.6 L411.4 388.9 L414.4 389.3 L417.4 389.5 L420.4 389.6 L423.5 389.6 L426.5 389.7 L429.5 389.7 L432.5 389.7 L435.5 389.7 L438.5 389.8 L441.6 389.8 L444.6 389.8 L447.6 389.8 L450.6 389.8 L453.6 389.8 L456.7 389.9 L459.7 389.9 L462.7 389.9 L465.7 390.0 L468.7 390.1 L471.7 390.3 L474.7 390.4 L477.8 390.6 L480.8 390.8 L483.8 391.0 L486.8 391.2 L489.8 391.4 L492.8 391.6 L495.8 391.7 L498.8 391.9 L501.9 392.1 L504.9 392.3 L507.9 392.5 L510.9 392.7 L513.9 392.9 L516.9 393.1 L519.9 393.3 L522.9 393.4 L526.0 393.6 L529.0 393.7 L532.0 393.7 L535.0 393.8 L538.0 393.9 L541.0 393.9 L544.1 394.0 L547.1 394.0 L550.1 394.1 L553.1 394.2 L556.1 394.2 L559.1 394.3 L562.2 394.4 L565.2 394.5 L568.2 394.7 L571.2 394.8 L574.2 394.9 L577.2 395.1 L580.3 395.2 L583.3 395.4 L586.3 395.6 L589.3 395.8 L592.3 396.0 L595.3 396.2 L598.3 396.4 L601.3 396.7 L604.3 397.0 L607.3 397.4 L610.3 397.8 L613.3 398.3 L616.3 398.8 L619.2 399.3 L622.2 399.8 L625.2 400.3 L628.2 400.8 L631.1 401.3 L634.1 401.8 L637.1 402.2 L640.1 402.7 L643.1 403.2 L646.0 403.7 L649.0 404.1 L652.0 404.6 L655.0 405.1 L657.9 405.7 L660.8 406.5 L663.7 407.3 L666.6 408.3 L669.5 409.3 L672.4 410.3 L675.2 411.5 L678.0 412.7 L680.8 414.0 L683.6 415.3 L686.3 416.7 L688.9 418.1 L691.6 419.5 L694.1 421.0 L696.6 422.6 L699.1 424.4 L701.4 426.3 L703.7 428.3 L706.0 430.3 L708.1 432.4 L710.3 434.6 L712.4 436.8 L714.4 439.1 L716.3 441.5 L718.0 443.9 L719.6 446.4 L721.1 449.0 L722.6 451.6 L724.0 454.3 L725.3 457.1 L726.6 459.9 L727.7 462.7 L728.8 465.5 L729.8 468.3 L730.8 471.1 L731.7 474.0 L732.6 476.9 L733.4 479.8 L734.2 482.7 L734.9 485.7 L735.6 488.6 L736.3 491.6 L736.8 494.6 L737.4 497.5 L737.9 500.5 L738.3 503.5 L738.7 506.5 L739.1 509.5 L739.5 512.5 L739.9 515.5 L740.3 518.4 L740.7 521.4 L741.2 524.4 L741.7 527.4 L742.1 530.4 L742.5 533.4 L742.8 536.4 L743.1 539.4 L743.4 542.4 L743.7 545.4 L744.0 548.4 L744.2 551.4 L744.4 554.4 L744.7 557.4 L744.9 560.4 L745.1 563.4 L745.3 566.4 L745.5 569.5 L745.7 572.5 L745.9 575.5 L746.1 578.5 L746.3 581.5 L746.4 584.5 L746.6 587.5 L746.8 590.5 L747.0 593.6 L747.1 596.6 L747.3 599.6 L747.5 602.6 L747.6 605.6 L747.8 608.6 L747.9 611.6 L748.0 614.7 L748.2 617.7 L748.3 620.7 L748.5 623.7 L748.6 626.7 L748.7 629.7 L748.9 632.7 L749.0 635.8 L749.1 638.8 L749.3 641.8 L749.4 644.8 L749.5 647.8 L749.7 650.8 L749.8 653.8 L749.9 656.9 L750.1 659.9 L750.2 662.9 L750.3 665.9 L750.4 668.9 L750.5 671.9 L750.7 675.0 L750.8 678.0 L750.9 681.0 L751.0 684.0" stroke="#4b4b4b" stroke-width="4.3" fill="none" stroke-linejoin="round"/>
<path d="M766.9 6.0 L766.9 9.0 L767.0 12.1 L767.0 15.1 L767.1 18.1 L767.1 21.1 L767.1 24.2 L767.2 27.2 L767.2 30.2 L767.2 33.2 L767.3 36.3 L767.3 39.3 L767.3 42.3 L767.4 45.3 L767.4 48.4 L767.5 51.4 L767.5 54.4 L767.5 57.4 L767.6 60.5 L767.6 63.5 L767.6 66.5 L767.7 69.5 L767.7 72.6 L767.8 75.6 L767.8 78.6 L767.9 81.6 L767.9 84.7 L768.0 87.7 L768.0 90.7 L768.1 93.7 L768.1 96.7 L768.2 99.8 L768.2 102.8 L768.3 105.8 L768.4 108.8 L768.4 111.9 L768.5 114.9 L768.6 117.9 L768.6 120.9 L768.7 124.0 L768.8 127.0 L768.9 130.0 L769.0 133.0 L769.1 136.1 L769.1 139.1 L769.2 142.1 L769.3 145.1 L769.4 148.2 L769.5 151.2 L769.6 154.2 L769.8 157.2 L769.9 160.3 L770.0 163.3 L770.2 166.3 L770.3 169.3 L770.5 172.4 L770.7 175.4 L770.9 178.4 L771.1 181.4 L771.5 184.4 L771.9 187.4 L772.4 190.4 L772.8 193.4 L773.1 196.4 L773.4 199.4 L773.7 202.4 L773.9 205.4 L774.2 208.4 L774.4 211.5 L774.7 214.5 L775.0 217.5 L775.3 220.5 L775.7 223.5 L776.0 226.5 L776.4 229.5 L776.7 232.5 L777.1 235.5 L777.5 238.5 L778.0 241.5 L778.4 244.5 L778.9 247.5 L779.3 250.5 L779.8 253.5 L780.4 256.5 L780.9 259.4 L781.5 262.4 L782.1 265.3 L782.8 268.3 L783.5 271.2 L784.3 274.2 L785.1 277.1 L785.9 280.0 L786.8 282.9 L787.7 285.8 L788.6 288.7 L789.5 291.6 L790.4 294.5 L791.4 297.3 L792.5 300.2 L793.6 303.0 L794.8 305.7 L796.2 308.4 L797.6 311.1 L799.1 313.8 L800.7 316.4 L802.4 318.9 L804.1 321.4 L805.9 323.7 L807.9 326.1 L809.9 328.4 L812.0 330.7 L814.2 332.8 L816.5 334.9 L818.8 336.7 L821.2 338.3 L823.7 339.8 L826.3 341.3 L829.0 342.7 L831.7 344.1 L834.6 345.4 L837.4 346.6 L840.3 347.7 L843.2 348.8 L846.1 349.8 L848.9 350.7 L851.8 351.5 L854.7 352.3 L857.6 353.0 L860.6 353.7 L863.6 354.3 L866.6 354.9 L869.6 355.5 L872.5 356.0 L875.5 356.5 L878.5 357.0 L881.5 357.5 L884.5 357.9 L887.5 358.3 L890.5 358.7 L893.5 359.0" stroke="#4b4b4b" stroke-width="4.3" fill="none" stroke-linejoin="round"/>
<polygon fill="#4b4b4b" points="160.0,386.2 163.0,382.8 179.0,382.8 182.0,386.2 179.0,389.6 163.0,389.6"/>
<polygon fill="#4b4b4b" points="185.5,386.2 188.5,382.8 204.5,382.8 207.5,386.2 204.5,389.6 188.5,389.6"/>
<polygon fill="#4b4b4b" points="220.0,386.2 223.0,382.8 239.0,382.8 242.0,386.2 239.0,389.6 223.0,389.6"/>
<polygon fill="#4b4b4b" points="279.5,386.2 282.5,382.8 298.5,382.8 301.5,386.2 298.5,389.6 282.5,389.6"/>
<polygon fill="#4b4b4b" points="338.5,386.2 341.5,382.8 357.5,382.8 360.5,386.2 357.5,389.6 341.5,389.6"/>
<polygon fill="#4b4b4b" points="397.5,387.4 400.5,383.9 416.5,383.9 419.5,387.4 416.5,390.8 400.5,390.8"/>
<polygon fill="#4b4b4b" points="457.0,390.1 460.0,386.9 476.0,386.9 479.0,390.1 476.0,393.3 460.0,393.3"/>
<polygon fill="#4b4b4b" points="516.5,393.6 519.5,390.4 535.5,390.4 538.5,393.6 535.5,396.8 519.5,396.8"/>
<polygon fill="#4b4b4b" points="576.0,395.6 579.0,392.4 595.0,392.4 598.0,395.6 595.0,398.8 579.0,398.8"/>
<polygon fill="#4b4b4b" points="635.0,403.6 638.0,400.4 654.0,400.4 657.0,403.6 654.0,406.8 638.0,406.8"/>
<polygon fill="#4b4b4b" points="694.7,430.1 697.7,426.9 713.7,426.9 716.7,430.1 713.7,433.3 697.7,433.3"/>
<polygon fill="#4b4b4b" points="783.5,305.0 786.5,301.8 802.5,301.8 805.5,305.0 802.5,308.2 786.5,308.2"/>
<polygon fill="#4b4b4b" points="813.5,340.0 816.5,336.8 832.5,336.8 835.5,340.0 832.5,343.2 816.5,343.2"/>
<polygon fill="#4b4b4b" points="843.0,351.5 846.0,348.3 862.0,348.3 865.0,351.5 862.0,354.7 846.0,354.7"/>
<polygon fill="#4b4b4b" points="872.7,359.0 875.7,355.8 895.7,355.8 898.7,359.0 895.7,362.2 875.7,362.2"/>
</g>
<g id="artifacts">

<rect x="182.7" y="676.2" width="6.5" height="6.2" fill="#34a369"/>
<rect x="198.8" y="676.2" width="6.6" height="6.2" fill="#34a369"/>
<polygon points="173.5,668 175.6,676.5 173.5,678.5" fill="#000"/>
<polygon points="173.6,678 176.6,675.8 178,677.2 175.2,681.8 173.6,681.8" fill="#1c69d9"/>
<rect x="176.2" y="680.6" width="3.6" height="2.3" fill="#fff"/>

</g>
<g id="ticklabels">
<text transform="translate(97.4,22.2) scale(1.05,1.16)" text-anchor="end" class="tick" >600</text>
<text transform="translate(97.4,142.3) scale(1.05,1.16)" text-anchor="end" class="tick" >400</text>
<text transform="translate(97.4,264.6) scale(1.05,1.16)" text-anchor="end" class="tick" >200</text>
<text transform="translate(97.4,384.6) scale(1.05,1.16)" text-anchor="end" class="tick" >0</text>
<text transform="translate(97.4,506.9) scale(1.05,1.16)" text-anchor="end" class="tick" >200</text>
<rect x="39.4" y="497.7" width="11.2" height="2.8" fill="#0d0d0d" style="filter:blur(0.35px)"/>
<text transform="translate(97.4,629.3) scale(1.05,1.16)" text-anchor="end" class="tick" >400</text>
<rect x="39.4" y="620.1" width="11.2" height="2.8" fill="#0d0d0d" style="filter:blur(0.35px)"/>
<text transform="translate(171.9,719.6) scale(1.08,1.16)" text-anchor="middle" class="tick" >0</text>
<text transform="translate(290.5,719.6) scale(1.08,1.16)" text-anchor="middle" class="tick" >20</text>
<text transform="translate(409.1,719.6) scale(1.08,1.16)" text-anchor="middle" class="tick" >40</text>
<text transform="translate(527.7,719.6) scale(1.08,1.16)" text-anchor="middle" class="tick" >60</text>
<text transform="translate(646.3,719.6) scale(1.08,1.16)" text-anchor="middle" class="tick" >80</text>
<text transform="translate(764.9,719.6) scale(1.08,1.16)" text-anchor="middle" class="tick" >100</text>
<text transform="translate(883.5,719.6) scale(1.08,1.16)" text-anchor="middle" class="tick" >120</text>
</g>
<g id="legend">
<rect x="286.6" y="64.6" width="52.4" height="4.4" fill="#4b4b4b"/>
<text x="350.8" y="75.6" style="font-size:27px">2.5</text>
<text transform="translate(387.6,75.6) scale(1.075,1)" style="font-size:24px">mm</text>
<rect x="286.6" y="96.9" width="52.4" height="4.4" fill="#e93e3e"/>
<text x="350.8" y="107.4" style="font-size:27px">4</text>
<text transform="translate(369.1,107.4) scale(1.075,1)" style="font-size:24px">mm</text>
<rect x="286.6" y="129.1" width="52.4" height="4.4" fill="#1c69d9"/>
<text x="350.8" y="138.1" style="font-size:27px">6</text>
<text transform="translate(369.1,138.1) scale(1.075,1)" style="font-size:24px">mm</text>
<rect x="286.6" y="159.1" width="52.4" height="4.4" fill="#34a369"/>
<text x="350.8" y="169.9" style="font-size:27px">8</text>
<text transform="translate(369.1,169.9) scale(1.075,1)" style="font-size:24px">mm</text>
<rect x="286.6" y="191.6" width="52.4" height="4.4" fill="#b076e0"/>
<text x="351.8" y="202" style="font-size:27px">10</text>
<text transform="translate(381.4,202) scale(1.075,1)" style="font-size:24px">mm</text>
</g>
<text transform="translate(439.8,771.8) scale(1.08,1)" class="lab"><tspan x="0">V</tspan><tspan x="25.2">oltage</tspan><tspan x="113.6">(V)</tspan></text>
<text transform="translate(25.7,436) rotate(-90)" class="lab"><tspan x="0">Focal</tspan><tspan x="89.3">length</tspan></text>
</svg>
</body></html>
